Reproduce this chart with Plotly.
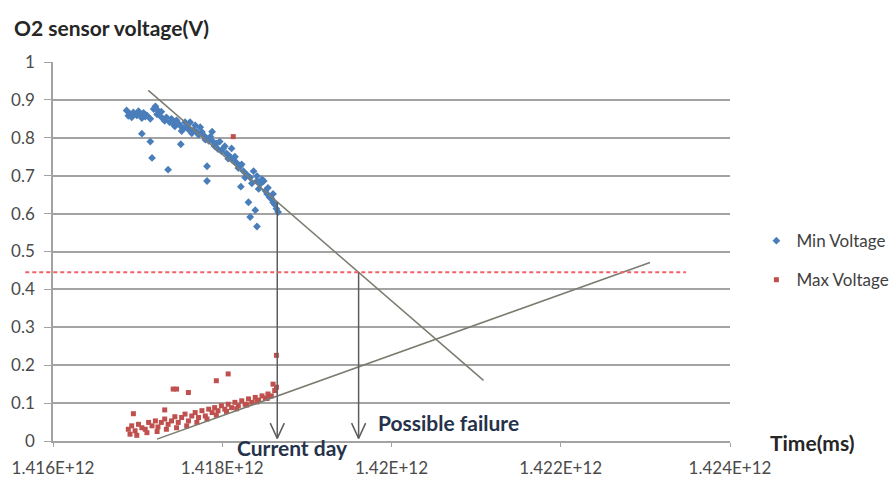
import numpy as np
import plotly.graph_objects as go

# ---- data (time in ms, voltage in V) ----
min_t = [
    1416.87e9, 1416.91e9, 1416.95e9, 1416.99e9, 1417.03e9, 1417.07e9, 1417.11e9, 1417.15e9,
    1417.19e9, 1417.21e9, 1417.24e9, 1417.26e9, 1417.30e9, 1417.34e9, 1417.38e9, 1417.42e9,
    1417.46e9, 1417.50e9, 1417.54e9, 1417.58e9, 1417.62e9, 1417.66e9, 1417.70e9, 1417.74e9,
    1417.78e9, 1417.82e9, 1417.86e9, 1417.89e9, 1417.93e9, 1417.97e9, 1418.01e9, 1418.05e9,
    1418.09e9, 1418.13e9, 1418.17e9, 1418.21e9, 1418.25e9, 1418.29e9, 1418.33e9, 1418.37e9,
    1418.41e9, 1418.45e9, 1418.49e9, 1418.53e9, 1418.56e9, 1418.60e9, 1418.64e9,
    1416.93e9, 1417.05e9, 1417.28e9, 1417.56e9, 1417.68e9, 1417.88e9, 1418.11e9, 1418.41e9,
    1418.60e9, 1418.62e9, 1418.66e9,
    1416.89e9, 1417.01e9, 1417.09e9, 1417.23e9, 1417.32e9, 1417.40e9, 1417.44e9, 1417.48e9,
    1417.52e9, 1417.60e9, 1417.64e9, 1417.72e9, 1417.76e9, 1417.80e9, 1417.84e9, 1417.91e9,
    1417.95e9, 1417.99e9, 1418.03e9, 1418.07e9, 1418.15e9, 1418.19e9, 1418.23e9, 1418.27e9,
    1418.35e9, 1418.43e9, 1418.47e9, 1418.51e9, 1418.54e9, 1418.58e9,
    1417.05e9, 1417.15e9, 1417.17e9, 1417.36e9, 1417.51e9, 1417.82e9, 1417.82e9, 1418.22e9,
    1418.31e9, 1418.39e9, 1418.33e9, 1418.41e9,
]
min_v = [
    0.872, 0.863, 0.867, 0.859, 0.863, 0.866, 0.859, 0.850,
    0.876, 0.883, 0.872, 0.859, 0.850, 0.854, 0.841, 0.837,
    0.846, 0.833, 0.824, 0.828, 0.841, 0.820, 0.816, 0.828,
    0.807, 0.798, 0.803, 0.790, 0.785, 0.790, 0.772, 0.759,
    0.751, 0.742, 0.734, 0.725, 0.712, 0.703, 0.695, 0.712,
    0.686, 0.678, 0.686, 0.652, 0.643, 0.630, 0.613,
    0.854, 0.852, 0.869, 0.841, 0.833, 0.816, 0.772, 0.699,
    0.652, 0.624, 0.604,
    0.858, 0.870, 0.856, 0.862, 0.845, 0.850, 0.830, 0.838,
    0.818, 0.822, 0.812, 0.808, 0.815, 0.795, 0.792, 0.778,
    0.770, 0.765, 0.778, 0.745, 0.750, 0.720, 0.730, 0.695,
    0.680, 0.665, 0.690, 0.660, 0.668, 0.640,
    0.811, 0.790, 0.747, 0.716, 0.783, 0.725, 0.686, 0.671,
    0.630, 0.609, 0.591, 0.566,
]

max_t = [
    1416.89e9, 1416.93e9, 1416.97e9, 1417.01e9, 1417.05e9, 1417.09e9, 1417.13e9, 1417.17e9,
    1417.21e9, 1417.24e9, 1417.28e9, 1417.32e9, 1417.36e9, 1417.40e9, 1417.44e9, 1417.48e9,
    1417.52e9, 1417.56e9, 1417.60e9, 1417.64e9, 1417.68e9, 1417.72e9, 1417.76e9, 1417.80e9,
    1417.84e9, 1417.88e9, 1417.91e9, 1417.95e9, 1417.99e9, 1418.03e9, 1418.07e9, 1418.11e9,
    1418.15e9, 1418.19e9, 1418.23e9, 1418.27e9, 1418.31e9, 1418.35e9, 1418.39e9, 1418.43e9,
    1418.47e9, 1418.51e9, 1418.54e9, 1418.58e9, 1418.62e9, 1418.64e9, 1418.60e9,
    1416.91e9, 1416.99e9, 1417.11e9, 1417.23e9, 1417.34e9, 1417.46e9, 1417.58e9, 1417.70e9,
    1417.82e9, 1417.93e9, 1418.05e9, 1418.17e9, 1418.29e9, 1418.41e9, 1418.53e9,
    1416.95e9, 1417.32e9, 1417.42e9, 1417.46e9, 1417.60e9, 1417.93e9, 1418.07e9, 1418.64e9,
    1418.13e9,
]
max_v = [
    0.031, 0.040, 0.027, 0.044, 0.035, 0.031, 0.049, 0.040,
    0.053, 0.037, 0.049, 0.058, 0.044, 0.053, 0.064, 0.049,
    0.062, 0.071, 0.053, 0.066, 0.075, 0.062, 0.080, 0.066,
    0.084, 0.075, 0.088, 0.080, 0.093, 0.084, 0.097, 0.088,
    0.102, 0.093, 0.106, 0.097, 0.111, 0.102, 0.115, 0.108,
    0.119, 0.113, 0.124, 0.119, 0.133, 0.142, 0.150,
    0.018, 0.015, 0.022, 0.025, 0.031, 0.035, 0.040, 0.049,
    0.058, 0.068, 0.078, 0.085, 0.095, 0.103, 0.112,
    0.072, 0.082, 0.137, 0.137, 0.128, 0.159, 0.177, 0.226,
    0.803,
]

# trend lines (end points)
min_trend_t = [1417.126e9, 1421.087e9]
min_trend_v = [0.925, 0.160]
max_trend_t = [1417.229e9, 1423.055e9]
max_trend_v = [0.005, 0.471]

threshold = 0.445
current_day = 1418.65e9

x_ticks = [1.416e12, 1.418e12, 1.420e12, 1.422e12, 1.424e12]
x_tick_text = ["1.416E+12", "1.418E+12", "1.42E+12", "1.422E+12", "1.424E+12"]
y_ticks = [0, 0.1, 0.2, 0.3, 0.4, 0.5, 0.6, 0.7, 0.8, 0.9, 1]
y_tick_text = ["0", "0.1", "0.2", "0.3", "0.4", "0.5", "0.6", "0.7", "0.8", "0.9", "1"]

X_RANGE = [1.416e12, 1.424e12]
Y_RANGE = [0, 1]

FONT = "Lato"
GRID = "#a3a3a3"
TREND = "#7b7b70"
ARROW = "#5c5c5c"

# where the falling trend reaches the threshold
fail_day = float(np.interp(threshold, min_trend_v[::-1], min_trend_t[::-1]))
current_top = float(np.interp(current_day, min_trend_t, min_trend_v))

fig = go.Figure()

fig.add_trace(go.Scatter(
    x=min_t, y=min_v, mode="markers", name="Min Voltage",
    marker=dict(symbol="diamond", size=6, color="#4a7ebb"),
    legendgroup="a",
))
fig.add_trace(go.Scatter(
    x=max_t, y=max_v, mode="markers", name="Max Voltage",
    marker=dict(symbol="square", size=5, color="#c0504d"),
    legendgroup="b",
))

fig.add_trace(go.Scatter(x=min_trend_t, y=min_trend_v, mode="lines",
                         line=dict(color=TREND, width=1.5), showlegend=False, hoverinfo="skip"))
fig.add_trace(go.Scatter(x=max_trend_t, y=max_trend_v, mode="lines",
                         line=dict(color=TREND, width=1.5), showlegend=False, hoverinfo="skip"))

# down arrows: stem plus open "V" head
head_dx = 8.3e7
head_dy = 0.04
tip_v = 0.007
for xa, top in [(current_day, current_top), (fail_day, threshold)]:
    fig.add_trace(go.Scatter(
        x=[xa, xa, None, xa - head_dx, xa, xa + head_dx],
        y=[top, tip_v, None, tip_v + head_dy, tip_v, tip_v + head_dy],
        mode="lines", line=dict(color=ARROW, width=1.5),
        showlegend=False, hoverinfo="skip",
    ))

# threshold line (dashed red), runs slightly past the y axis
def to_paper_y(v):
    return (v - Y_RANGE[0]) / (Y_RANGE[1] - Y_RANGE[0])

fig.add_shape(type="line", xref="paper", yref="paper",
              x0=-0.041, x1=0.935, y0=to_paper_y(threshold), y1=to_paper_y(threshold),
              line=dict(color="#f2616a", width=2, dash="4px,3px"))

fig.add_annotation(xref="paper", yref="paper", x=-0.061, y=1.092, xanchor="left", yanchor="middle",
                   text="<b>O2 sensor voltage(V)</b>", showarrow=False,
                   font=dict(family=FONT, size=21, color="#262626"))
fig.add_annotation(xref="paper", yref="paper", x=1.056, y=-0.003, xanchor="left", yanchor="middle",
                   text="<b>Time(ms)</b>", showarrow=False,
                   font=dict(family=FONT, size=21, color="#262626"))
fig.add_annotation(xref="x", yref="paper", x=current_day + 1.8e8, y=-0.017, xanchor="center", yanchor="middle",
                   text="<b>Current day</b>", showarrow=False,
                   font=dict(family=FONT, size=21, color="#26324a"))
fig.add_annotation(xref="x", yref="y", x=fail_day + 2.0e8, y=0.049, xanchor="left", yanchor="middle",
                   text="<b>Possible failure</b>", showarrow=False,
                   font=dict(family=FONT, size=21, color="#26324a"))

fig.update_layout(
    width=894, height=479,
    margin=dict(l=53, r=164, t=62, b=38, autoexpand=False),
    paper_bgcolor="white", plot_bgcolor="white",
    font=dict(family=FONT, size=17, color="#4a4a4a"),
    showlegend=True,
    legend=dict(x=1.039, y=0.575, xanchor="left", yanchor="top",
                font=dict(family=FONT, size=17, color="#404040"),
                tracegroupgap=14, itemwidth=30, bgcolor="rgba(0,0,0,0)"),
    xaxis=dict(range=X_RANGE, tickvals=x_ticks, ticktext=x_tick_text, automargin=False,
               showgrid=False, zeroline=False, showline=True, linecolor=GRID, linewidth=1.5,
               ticks="outside", ticklen=4, tickcolor=GRID, ticklabelstandoff=7),
    yaxis=dict(range=Y_RANGE, tickvals=y_ticks, ticktext=y_tick_text, automargin=False,
               showgrid=True, gridcolor=GRID, gridwidth=1.5, zeroline=False,
               showline=True, linecolor=GRID, linewidth=1.5,
               ticks="outside", ticklen=7, tickcolor=GRID, ticklabelstandoff=6),
)

fig.write_html("out.html")
